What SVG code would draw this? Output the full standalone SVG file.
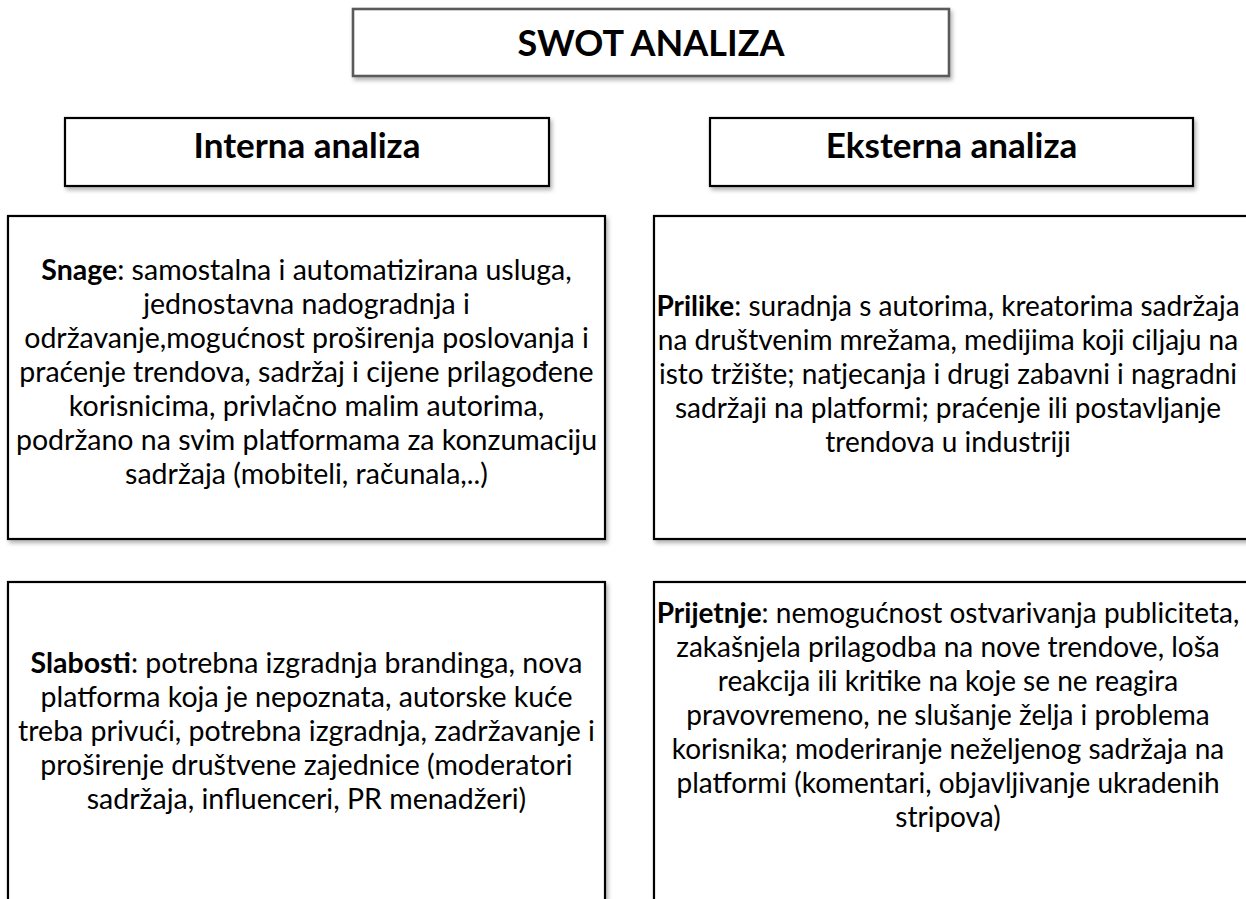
<svg xmlns="http://www.w3.org/2000/svg" width="1246" height="899" viewBox="0 0 1246 899">
<defs>
<filter id="sh" x="-10%" y="-10%" width="130%" height="140%">
<feDropShadow dx="2" dy="3" stdDeviation="2.2" flood-color="#000" flood-opacity="0.3"/>
</filter>
<style>
.box{fill:#fff;stroke:#000;stroke-width:2.2;filter:url(#sh)}
.tbox{fill:#fff;stroke:#5a5a5a;stroke-width:2.6;filter:url(#sh)}
.head{font-family:Lato,"Liberation Sans",sans-serif;font-weight:bold;fill:#000;text-anchor:middle}
.body{font-family:Lato,"Liberation Sans",sans-serif;font-size:28.5px;fill:#000;text-anchor:middle}
.rb{font-size:28px}
.b{font-weight:bold}
</style>
</defs>
<rect width="1246" height="899" fill="#fff"/>
<g id="connectors"></g>
<g id="title">
<rect class="tbox" x="353" y="9" width="596" height="67"/>
<text class="head" x="651" y="56" font-size="36">SWOT ANALIZA</text>
</g>
<g id="interna">
<rect class="box" x="65" y="118" width="484" height="68"/>
<text class="head" x="307" y="158" font-size="35">Interna analiza</text>
</g>
<g id="eksterna">
<rect class="box" x="710" y="118" width="483" height="68"/>
<text class="head" x="951.5" y="158" font-size="35">Eksterna analiza</text>
</g>
<g id="snage">
<rect class="box" x="8" y="216" width="597" height="323"/>
<text class="body" x="306.5" y="280"><tspan class="b">Snage</tspan>: samostalna i automatizirana usluga,</text>
<text class="body" x="306.5" y="314">jednostavna nadogradnja i</text>
<text class="body" x="306.5" y="348">održavanje,mogućnost proširenja poslovanja i</text>
<text class="body" x="306.5" y="382">praćenje trendova, sadržaj i cijene prilagođene</text>
<text class="body" x="306.5" y="416">korisnicima, privlačno malim autorima,</text>
<text class="body" x="306.5" y="450">podržano na svim platformama za konzumaciju</text>
<text class="body" x="306.5" y="484">sadržaja (mobiteli, računala,..)</text>
</g>
<g id="prilike">
<rect class="box" x="654" y="216" width="600" height="323"/>
<text class="body rb" x="948" y="316"><tspan class="b">Prilike</tspan>: suradnja s autorima, kreatorima sadržaja</text>
<text class="body rb" x="948" y="350">na društvenim mrežama, medijima koji ciljaju na</text>
<text class="body rb" x="948" y="384">isto tržište; natjecanja i drugi zabavni i nagradni</text>
<text class="body rb" x="948" y="418">sadržaji na platformi; praćenje ili postavljanje</text>
<text class="body rb" x="948" y="452">trendova u industriji</text>
</g>
<g id="slabosti">
<rect class="box" x="8" y="582" width="597" height="330"/>
<text class="body" x="306.5" y="673"><tspan class="b">Slabosti</tspan>: potrebna izgradnja brandinga, nova</text>
<text class="body" x="306.5" y="707">platforma koja je nepoznata, autorske kuće</text>
<text class="body" x="306.5" y="741">treba privući, potrebna izgradnja, zadržavanje i</text>
<text class="body" x="306.5" y="775">proširenje društvene zajednice (moderatori</text>
<text class="body" x="306.5" y="809">sadržaja, influenceri, PR menadžeri)</text>
</g>
<g id="prijetnje">
<rect class="box" x="654" y="582" width="600" height="330"/>
<text class="body rb" x="948" y="623"><tspan class="b">Prijetnje</tspan>: nemogućnost ostvarivanja publiciteta,</text>
<text class="body rb" x="948" y="657">zakašnjela prilagodba na nove trendove, loša</text>
<text class="body rb" x="948" y="691">reakcija ili kritike na koje se ne reagira</text>
<text class="body rb" x="948" y="725">pravovremeno, ne slušanje želja i problema</text>
<text class="body rb" x="948" y="759">korisnika; moderiranje neželjenog sadržaja na</text>
<text class="body rb" x="948" y="793">platformi (komentari, objavljivanje ukradenih</text>
<text class="body rb" x="948" y="827">stripova)</text>
</g>
</svg>
